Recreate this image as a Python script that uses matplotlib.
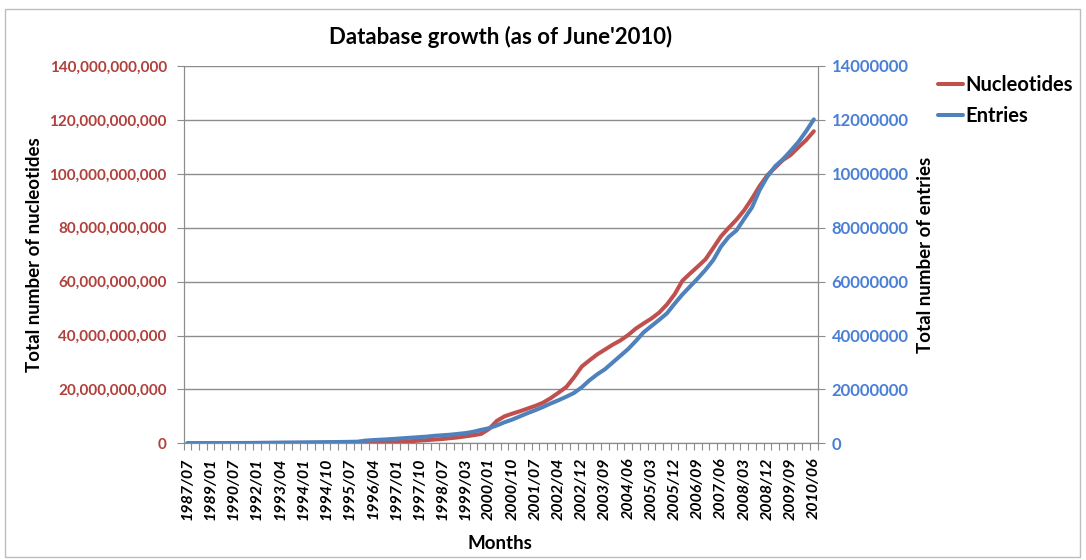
import matplotlib
matplotlib.use("Agg")
import matplotlib.pyplot as plt
from matplotlib.patches import Rectangle
from matplotlib.ticker import FixedLocator, FuncFormatter

# Release months (one point per database release)
months = [
    "1987/07", "1988/01", "1988/07", "1989/01", "1989/07", "1990/01", "1990/07",
    "1991/01", "1991/07", "1992/01", "1992/06", "1992/11", "1993/04", "1993/07",
    "1993/10", "1994/01", "1994/04", "1994/07", "1994/10", "1995/01", "1995/04",
    "1995/07", "1995/10", "1996/01", "1996/04", "1996/07", "1996/10", "1997/01",
    "1997/04", "1997/07", "1997/10", "1998/01", "1998/04", "1998/07", "1998/10",
    "1998/12", "1999/03", "1999/07", "1999/10", "2000/01", "2000/04", "2000/07",
    "2000/10", "2001/01", "2001/04", "2001/07", "2001/10", "2002/01", "2002/04",
    "2002/07", "2002/09", "2002/12", "2003/03", "2003/06", "2003/09", "2003/12",
    "2004/03", "2004/06", "2004/09", "2004/12", "2005/03", "2005/06", "2005/09",
    "2005/12", "2006/03", "2006/06", "2006/09", "2006/12", "2007/03", "2007/06",
    "2007/09", "2007/12", "2008/03", "2008/06", "2008/09", "2008/12", "2009/03",
    "2009/06", "2009/09", "2009/12", "2010/03", "2010/06",
]

# Total nucleotides (billions of bases)
nucleotides_bn = [
    0.01, 0.015, 0.02, 0.03, 0.04, 0.05, 0.06, 0.07, 0.08, 0.1,
    0.11, 0.12, 0.14, 0.15, 0.16, 0.18, 0.19, 0.2, 0.22, 0.23,
    0.25, 0.26, 0.28, 0.3, 0.32, 0.34, 0.38, 0.45, 0.6, 0.8,
    1.0, 1.2, 1.4, 1.6, 1.9, 2.2, 2.6, 3.0, 3.5, 5.3,
    8.3, 10.0, 11.0, 11.9, 12.9, 13.9, 15.1, 16.8, 18.8, 20.9,
    24.5, 28.5, 30.8, 33.0, 34.8, 36.6, 38.2, 40.2, 42.6, 44.5,
    46.3, 48.5, 51.5, 55.3, 60.3, 63.0, 65.6, 68.3, 72.5, 76.8,
    80.0, 83.0, 86.5, 90.8, 95.5, 99.5, 102.3, 105.1, 107.0, 109.8,
    112.5, 115.8,
]

# Total entries (millions)
entries_mn = [
    0.02, 0.03, 0.04, 0.05, 0.06, 0.08, 0.1, 0.12, 0.14, 0.17,
    0.2, 0.22, 0.25, 0.28, 0.3, 0.33, 0.36, 0.4, 0.43, 0.47,
    0.5, 0.55, 0.6, 1.0, 1.2, 1.35, 1.5, 1.7, 1.9, 2.1,
    2.3, 2.5, 2.8, 3.0, 3.2, 3.5, 3.8, 4.3, 5.0, 5.6,
    6.6, 7.8, 8.8, 10.0, 11.2, 12.3, 13.5, 14.8, 16.0, 17.3,
    18.7, 20.8, 23.4, 25.6, 27.5, 30.0, 32.5, 35.0, 38.0, 41.2,
    43.5, 45.8, 48.2, 51.8, 55.2, 58.2, 61.2, 64.4, 68.0, 73.0,
    76.6, 79.0, 83.3, 87.5, 94.0, 99.0, 102.8, 105.4, 108.5, 111.8,
    115.8, 120.2,
]

nucleotide_ticks = [0, 20e9, 40e9, 60e9, 80e9, 100e9, 120e9, 140e9]
entry_ticks = [0, 20e6, 40e6, 60e6, 80e6, 100e6, 120e6, 140e6]
entry_tick_labels = ["0", "20000000", "40000000", "60000000", "80000000",
                     "10000000", "12000000", "14000000"]

RED = "#C0504D"
BLUE = "#4F81BD"
RED_TXT = "#B0403C"
BLUE_TXT = "#4A7FD6"
GRID = "#8C8C8C"
FONT = "Lato"

plt.rcParams["font.family"] = [FONT, "DejaVu Sans"]

fig = plt.figure(figsize=(10.86, 5.60), dpi=100)
fig.patches.append(Rectangle((5 / 1086, 3 / 560), 1075 / 1086, 548 / 560,
                             transform=fig.transFigure, fill=False,
                             edgecolor="#BDBDBD", linewidth=1.0))

ax = fig.add_axes([183.5 / 1086, 1 - 443.3 / 560, 634.2 / 1086, 377.3 / 560])
ax2 = ax.twinx()

x = list(range(len(months)))
nuc = [v * 1e9 for v in nucleotides_bn]
ent = [v * 1e6 for v in entries_mn]

l1, = ax.plot(x, nuc, color=RED, linewidth=2.9, solid_capstyle="round",
              solid_joinstyle="round", label="Nucleotides", zorder=3)
l2, = ax2.plot(x, ent, color=BLUE, linewidth=2.9, solid_capstyle="round",
               solid_joinstyle="round", label="Entries", zorder=3)

ax.set_xlim(-0.5, len(months) - 0.5)
ax.set_ylim(0, 140e9)
ax2.set_ylim(0, 140e6)

# Category axis: labels every third release, tick marks between categories
ax.set_xticks(x[::3])
ax.set_xticklabels(months[::3], rotation=90, fontsize=11.5, fontweight="bold",
                   style="italic", color="black")
ax.set_xticks([i - 0.5 for i in range(len(months) + 1)], minor=True)
ax.tick_params(axis="x", which="major", length=0, pad=10)
ax.tick_params(axis="x", which="minor", length=5, width=0.8, color=GRID,
               direction="out")

ax.yaxis.set_major_locator(FixedLocator(nucleotide_ticks))
ax.yaxis.set_major_formatter(FuncFormatter(lambda v, p: f"{int(round(v)):,}"))
ax.tick_params(axis="y", length=5, width=0.8, color=GRID, labelsize=11.0,
               labelcolor=RED_TXT, pad=7)
for t in ax.get_yticklabels():
    t.set_fontweight("bold")

ax2.yaxis.set_major_locator(FixedLocator(entry_ticks))
ax2.set_yticklabels(entry_tick_labels)
ax2.tick_params(axis="y", length=5, width=0.8, color=GRID, labelsize=12,
                labelcolor=BLUE_TXT, pad=5)
for t in ax2.get_yticklabels():
    t.set_fontweight("bold")

ax.grid(axis="y", color=GRID, linewidth=1.0)
ax.set_axisbelow(True)
for a in (ax, ax2):
    a.spines["top"].set_visible(False)
    a.spines["left"].set_color(GRID)
    a.spines["right"].set_color(GRID)
    a.spines["bottom"].set_color(GRID)
    a.patch.set_visible(False)

ax.set_ylabel("Total number of nucleotides", fontsize=13.5, fontweight="bold")
ax.yaxis.set_label_coords(-0.2215, 0.5)
ax2.set_ylabel("Total number of entries", fontsize=13.5, fontweight="bold")
ax2.yaxis.set_label_coords(1.157, 0.5)
ax.set_xlabel("Months", fontsize=13.5, fontweight="bold")
ax.xaxis.set_label_coords(0.499, -0.243)
fig.text(501 / 1086, 1 - 37 / 560, "Database growth (as of June'2010)",
         fontsize=16, fontweight="bold", ha="center", va="center")

fig.legend([l1, l2], ["Nucleotides", "Entries"], loc="upper left",
           bbox_to_anchor=(930 / 1086, 1 - 67 / 560), frameon=False,
           prop={"family": FONT, "weight": "bold", "size": 14.5},
           handlelength=1.25, handletextpad=0.1, labelspacing=0.55,
           borderaxespad=0)

fig.savefig("out.png", dpi=100)
